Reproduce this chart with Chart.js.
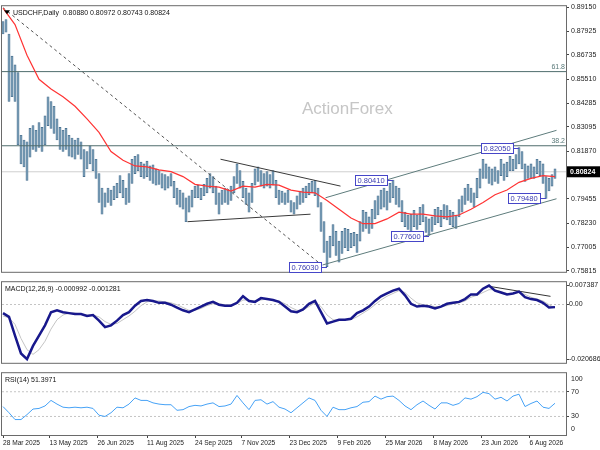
<!DOCTYPE html>
<html lang="en">
<head>
<meta charset="UTF-8">
<title>USDCHF Daily</title>
<script src="https://cdn.jsdelivr.net/npm/chart.js@4.4.0/dist/chart.umd.min.js"></script>
<style>
    body { margin: 0; background: #fff; }
    .wrap { position: relative; width: 600px; height: 450px; overflow: hidden; }
    canvas { position: absolute; left: 0; }
    #main { top: 0; }
    #macd { top: 278px; }
    #rsi { top: 367px; }
</style>
</head>
<body>
<div class="wrap">
    <canvas id="main" width="600" height="278"></canvas>
    <canvas id="macd" width="600" height="89"></canvas>
    <canvas id="rsi" width="600" height="83"></canvas>
</div>
<script>
const FONT = "'Liberation Sans', Arial, sans-serif";
Chart.defaults.font.family = FONT;
Chart.defaults.font.size = 7;
Chart.defaults.color = '#222';

// bar index axis: one unit = one daily bar
const X_MIN = -0.67, X_MAX = 375.33;
const AXIS_W = 34;
const CANDLE_STEP = 2, MA_STEP = 8, OSC_STEP = 4;

// daily ranges, two bars per entry
const highs = [
    0.8842,0.8852,0.8779,0.8667,0.8623,0.8584,0.8267,0.8243,0.8234,0.8302,
    0.8316,0.8292,0.8331,0.8307,0.8365,0.8462,0.8438,0.8414,0.8350,0.8307,
    0.8292,0.8302,0.8267,0.8253,0.8243,0.8253,0.8234,0.8195,0.8185,0.8214,
    0.8195,0.8146,0.8073,0.8000,0.7976,0.8000,0.7990,0.8010,0.8024,0.8063,
    0.8039,0.8000,0.8073,0.8146,0.8161,0.8170,0.8131,0.8122,0.8136,0.8112,
    0.8117,0.8097,0.8088,0.8073,0.8068,0.8058,0.8073,0.8034,0.8000,0.7990,
    0.7976,0.7951,0.7961,0.7990,0.8010,0.8015,0.8000,0.8019,0.8049,0.8073,
    0.8058,0.8010,0.7976,0.7990,0.8000,0.7990,0.8010,0.8058,0.8122,0.8088,
    0.8034,0.8000,0.7976,0.8024,0.8097,0.8107,0.8088,0.8073,0.8083,0.8068,
    0.8088,0.8039,0.7990,0.7985,0.7976,0.7990,0.7937,0.7927,0.7961,0.7985,
    0.8000,0.8010,0.8024,0.8034,0.8039,0.8000,0.7927,0.7830,0.7732,0.7757,
    0.7815,0.7781,0.7732,0.7781,0.7796,0.7791,0.7771,0.7776,0.7766,0.7830,
    0.7888,0.7878,0.7854,0.7893,0.7937,0.7961,0.7990,0.8000,0.7985,0.8024,
    0.8041,0.8010,0.8000,0.7937,0.7878,0.7864,0.7868,0.7888,0.7864,0.7903,
    0.7917,0.7854,0.7844,0.7854,0.7893,0.7903,0.7888,0.7917,0.7912,0.7888,
    0.7878,0.7864,0.7942,0.7961,0.8000,0.8019,0.8000,0.7976,0.8049,0.8097,
    0.8146,0.8122,0.8107,0.8097,0.8107,0.8088,0.8146,0.8122,0.8131,0.8161,
    0.8146,0.8170,0.8205,0.8185,0.8122,0.8112,0.8122,0.8107,0.8146,0.8136,
    0.8122,0.8058,0.8049,0.8068,0.8097
];
const lows = [
    0.8779,0.8788,0.8438,0.8462,0.8438,0.8219,0.8122,0.8107,0.8039,0.8156,
    0.8195,0.8185,0.8205,0.8185,0.8219,0.8316,0.8302,0.8277,0.8243,0.8195,
    0.8185,0.8195,0.8161,0.8156,0.8146,0.8170,0.8146,0.8058,0.8097,0.8122,
    0.8088,0.8049,0.7927,0.7868,0.7903,0.7927,0.7912,0.7942,0.7951,0.7976,
    0.7951,0.7917,0.7927,0.8024,0.8073,0.8088,0.8058,0.8049,0.8058,0.8039,
    0.8024,0.8015,0.8019,0.8000,0.7990,0.8000,0.8010,0.7951,0.7917,0.7903,
    0.7893,0.7830,0.7878,0.7903,0.7951,0.7951,0.7942,0.7961,0.7976,0.8000,
    0.7976,0.7917,0.7868,0.7917,0.7927,0.7917,0.7937,0.7976,0.8024,0.8000,
    0.7951,0.7917,0.7878,0.7927,0.8015,0.8034,0.8010,0.8000,0.8010,0.8000,
    0.8015,0.7951,0.7917,0.7927,0.7917,0.7927,0.7878,0.7868,0.7893,0.7917,
    0.7927,0.7951,0.7966,0.7976,0.7961,0.7903,0.7781,0.7674,0.7603,0.7649,
    0.7708,0.7659,0.7625,0.7669,0.7698,0.7684,0.7698,0.7708,0.7674,0.7732,
    0.7781,0.7796,0.7771,0.7796,0.7844,0.7864,0.7893,0.7903,0.7888,0.7927,
    0.7951,0.7917,0.7903,0.7830,0.7805,0.7791,0.7781,0.7805,0.7791,0.7815,
    0.7830,0.7776,0.7760,0.7781,0.7815,0.7825,0.7805,0.7844,0.7839,0.7815,
    0.7805,0.7796,0.7854,0.7878,0.7917,0.7937,0.7927,0.7903,0.7951,0.8000,
    0.8049,0.8049,0.8024,0.8015,0.8034,0.8024,0.8063,0.8039,0.8058,0.8088,
    0.8088,0.8097,0.8122,0.8097,0.8034,0.8049,0.8049,0.8049,0.8073,0.8063,
    0.8024,0.7948,0.7985,0.8010,0.8049
];

// red moving average, one value every 8 bars
const maValues = [
    0.8910,0.8827,0.8672,0.8550,0.8501,0.8462,0.8414,0.8350,0.8282,0.8185,
    0.8141,0.8112,0.8107,0.8092,0.8083,0.8058,0.8019,0.8010,0.8005,0.7985,
    0.8010,0.8005,0.8019,0.8015,0.7990,0.7980,0.7976,0.7937,0.7893,0.7849,
    0.7820,0.7820,0.7844,0.7878,0.7868,0.7868,0.7859,0.7854,0.7864,0.7893,
    0.7927,0.7966,0.7990,0.8029,0.8049,0.8063,0.8058
];

// MACD(12,26,9), one value every 4 bars
const macdMain = [
    -0.00327,-0.00469,-0.01180,-0.01855,-0.02068,-0.01571,-0.01180,-0.00789,-0.00291,-0.00220,
    -0.00291,-0.00327,-0.00363,-0.00363,-0.00434,-0.00398,-0.00611,-0.00860,-0.00789,-0.00611,
    -0.00398,-0.00291,-0.00043,0.00135,0.00171,0.00135,0.00064,0.00064,-0.00007,-0.00114,
    -0.00220,-0.00291,-0.00185,-0.00078,0.00028,0.00100,-0.00007,-0.00043,-0.00043,0.00064,
    0.00313,0.00135,0.00100,0.00242,0.00206,0.00171,0.00100,-0.00078,-0.00256,-0.00291,
    -0.00185,0.00028,0.00135,-0.00291,-0.00718,-0.00647,-0.00576,-0.00576,-0.00540,-0.00327,
    -0.00220,-0.00078,0.00135,0.00313,0.00419,0.00526,0.00597,0.00348,0.00028,-0.00078,
    -0.00043,-0.00078,-0.00149,-0.00078,0.00028,0.00064,0.00100,0.00206,0.00384,0.00384,
    0.00600,0.00720,0.00526,0.00455,0.00384,0.00419,0.00490,0.00277,0.00206,0.00171,
    0.00064,-0.00114,-0.00099
];
const macdSignal = [
    -0.00434,-0.00505,-0.00753,-0.01287,-0.01713,-0.01891,-0.01713,-0.01393,-0.00931,-0.00576,
    -0.00398,-0.00327,-0.00327,-0.00363,-0.00398,-0.00398,-0.00469,-0.00647,-0.00753,-0.00718,
    -0.00576,-0.00434,-0.00256,-0.00043,0.00100,0.00135,0.00135,0.00100,0.00064,-0.00007,
    -0.00114,-0.00220,-0.00220,-0.00149,-0.00043,0.00028,0.00028,-0.00007,-0.00007,0.00028,
    0.00171,0.00171,0.00135,0.00171,0.00206,0.00171,0.00135,0.00028,-0.00114,-0.00220,
    -0.00220,-0.00078,0.00064,-0.00078,-0.00398,-0.00576,-0.00611,-0.00576,-0.00576,-0.00469,
    -0.00327,-0.00185,-0.00007,0.00171,0.00313,0.00419,0.00526,0.00455,0.00242,0.00064,
    -0.00007,-0.00043,-0.00078,-0.00078,-0.00043,0.00028,0.00064,0.00135,0.00277,0.00348,
    0.00455,0.00562,0.00562,0.00490,0.00419,0.00419,0.00455,0.00384,0.00277,0.00206,
    0.00135,-0.00007,-0.00128
];

// RSI(14), one value every 4 bars
const rsiValues = [
    46,36,25,25,33,42,43,47,56,50,
    45,44,45,44,45,43,32,30,36,45,
    44,50,60,56,56,52,50,49,49,40,
    41,46,48,47,50,52,46,47,50,64,
    52,41,56,57,50,54,45,42,36,44,
    52,60,56,40,30,45,41,41,44,46,
    53,54,63,58,62,63,56,47,41,49,
    55,48,42,52,52,48,51,60,58,62,
    69,67,58,61,55,63,66,46,51,55,
    45,43,51.4
];

// axis ticks
const priceTicks = [0.89150,0.87925,0.86735,0.85510,0.84285,0.83095,0.81870,0.80645,0.79455,0.78230,0.77005,0.75815];
const macdTicks = [-0.020686, 0, 0.007387];
const macdTickText = ['-0.020686', '0.00', '0.007387'];
const rsiTicks = [30, 70];
const dateTickIdx = [0, 31, 63, 96, 128, 159, 191, 223, 255, 287, 319, 351];
const dateLabels = ['28 Mar 2025','13 May 2025','26 Jun 2025','11 Aug 2025','24 Sep 2025','7 Nov 2025',
                    '23 Dec 2025','9 Feb 2026','25 Mar 2026','8 May 2026','23 Jun 2026','6 Aug 2026'];

// levels and drawn lines (bar index, price)
const LAST_CLOSE = 0.80824;
const fibLevels = [[0.8589, '61.8'], [0.8214, '38.2']];
const dashedDiag = [0, 0.8912, 211, 0.7620];
const triTop = [145, 0.8146, 225, 0.8010];
const triBottom = [123, 0.7830, 205, 0.7868];
const chanUpper = [215, 0.7951, 369, 0.8292];
const chanLower = [213, 0.7611, 369, 0.7946];
const macdTrend = [323, 0.0070, 365, 0.0031];
const pivots = [[344, 0.82050], [260, 0.80410], [284, 0.77600], [362, 0.79480], [216, 0.76030]];

const seq = (arr, step) => arr.map((v, i) => ({ x: i * step, y: v }));
const seg = l => [{ x: l[0], y: l[1] }, { x: l[2], y: l[3] }];
const flat = v => [{ x: X_MIN, y: v }, { x: X_MAX, y: v }];

function lineDs(data, color, width, dash, order) {
    return { type: 'line', data, borderColor: color, borderWidth: width, borderDash: dash || [],
             pointRadius: 0, tension: 0, fill: false, order: order || 0 };
}

function yAxis(min, max, ticks, fmt, pad) {
    return {
        type: 'linear', position: 'right', min, max,
        afterFit: s => { s.width = AXIS_W; },
        afterBuildTicks: s => { s.ticks = ticks.map(v => ({ value: v })); },
        ticks: { callback: fmt, padding: pad === undefined ? 2 : pad, color: '#222', font: { size: 7 } },
        grid: { drawOnChartArea: false, drawTicks: true, tickLength: 3, color: '#444' },
        border: { display: false }
    };
}

const hiddenX = { type: 'linear', min: X_MIN, max: X_MAX, offset: false, grid: { offset: false }, display: false };

function options(padding, y, x) {
    return {
        responsive: false, animation: false, events: [],
        layout: { padding },
        plugins: { legend: { display: false }, tooltip: { enabled: false } },
        scales: { x: x || hiddenX, y }
    };
}

const frame = {
    id: 'frame',
    afterDraw(chart) {
        const { ctx, chartArea: a } = chart;
        ctx.save();
        ctx.strokeStyle = '#6a6a6a';
        ctx.lineWidth = 1;
        ctx.strokeRect(a.left - 0.5, a.top - 0.5, a.right - a.left + 1, a.bottom - a.top + 1);
        ctx.restore();
    }
};

const mainDeco = {
    id: 'mainDeco',
    beforeDatasetsDraw(chart) {
        const { ctx, chartArea: a } = chart;
        ctx.save();
        ctx.font = '17px ' + FONT;
        ctx.fillStyle = '#c6c6c6';
        ctx.textBaseline = 'middle';
        ctx.fillText('ActionForex', a.left + 300, a.top + 103);
        ctx.restore();
    },
    afterDraw(chart) {
        const { ctx, chartArea: a, scales: { x, y } } = chart;
        ctx.save();
        // title
        ctx.fillStyle = '#000';
        ctx.beginPath();
        ctx.moveTo(a.left + 2, a.top + 4); ctx.lineTo(a.left + 8, a.top + 4); ctx.lineTo(a.left + 5, a.top + 8);
        ctx.fill();
        ctx.font = '7px ' + FONT;
        ctx.textBaseline = 'middle';
        ctx.fillStyle = '#111';
        ctx.fillText('USDCHF,Daily  0.80880 0.80972 0.80743 0.80824', a.left + 11, a.top + 7);
        // fib labels
        ctx.fillStyle = '#587878';
        ctx.textAlign = 'right';
        ctx.textBaseline = 'bottom';
        fibLevels.forEach(([v, t]) => ctx.fillText(t, a.right - 1, y.getPixelForValue(v) - 1));
        // pivot boxes
        ctx.font = '7.5px ' + FONT;
        ctx.textAlign = 'left';
        ctx.textBaseline = 'middle';
        pivots.forEach(([i, v]) => {
            const px = x.getPixelForValue(i), py = Math.round(y.getPixelForValue(v)) + 0.5;
            const t = v.toFixed(5);
            const w = Math.ceil(ctx.measureText(t).width) + 4;
            const bx = Math.round(px - 6 - w) + 0.5;
            ctx.fillStyle = '#fff';
            ctx.fillRect(bx, py - 5, w, 10);
            ctx.strokeStyle = '#4646c8';
            ctx.lineWidth = 1;
            ctx.strokeRect(bx, py - 5, w, 10);
            ctx.beginPath(); ctx.moveTo(bx + w, py); ctx.lineTo(px, py); ctx.stroke();
            ctx.fillStyle = '#3a3ab0';
            ctx.fillText(t, bx + 2, py + 0.5);
        });
        // last price tag
        const ly = y.getPixelForValue(LAST_CLOSE);
        ctx.fillStyle = '#000';
        ctx.fillRect(a.right + 1, ly - 5.5, chart.width - a.right - 1, 11);
        ctx.fillStyle = '#fff';
        ctx.font = 'bold 7px ' + FONT;
        ctx.fillText(LAST_CLOSE.toFixed(5), a.right + 4, ly + 0.5);
        ctx.restore();
    }
};

function header(text) {
    return {
        id: 'header',
        afterDraw(chart) {
            const { ctx, chartArea: a } = chart;
            ctx.save();
            ctx.font = '7px ' + FONT;
            ctx.fillStyle = '#111';
            ctx.textBaseline = 'middle';
            ctx.fillText(text, a.left + 3, a.top + 7);
            ctx.restore();
        }
    };
}

const rsiEdges = {
    id: 'rsiEdges',
    afterDraw(chart) {
        const { ctx, chartArea: a, scales: { y } } = chart;
        ctx.save();
        ctx.font = '7px ' + FONT;
        ctx.fillStyle = '#222';
        ctx.textBaseline = 'middle';
        ctx.fillText('100', a.right + 5, y.getPixelForValue(100) + 6);
        ctx.fillText('0', a.right + 5, y.getPixelForValue(0) - 6);
        ctx.restore();
    }
};

// price panel
new Chart(document.getElementById('main'), {
    type: 'line',
    data: {
        datasets: [
            lineDs(seq(maValues, MA_STEP), '#ff3434', 1.2, null, 1),
            lineDs(seg(dashedDiag), '#555', 1, [3, 3], 1),
            lineDs(seg(triTop), '#3a3a3a', 1, null, 1),
            lineDs(seg(triBottom), '#3a3a3a', 1, null, 1),
            lineDs(seg(chanUpper), '#5e7c7c', 1, null, 1),
            lineDs(seg(chanLower), '#5e7c7c', 1, null, 1),
            ...fibLevels.map(([v]) => lineDs(flat(v), '#4f6d6d', 1, null, 3)),
            {
                type: 'bar',
                data: highs.map((h, i) => ({ x: i * CANDLE_STEP, y: [lows[i], h] })),
                backgroundColor: '#7499b3',
                borderColor: '#42698a',
                borderWidth: 0.6,
                borderSkipped: false,
                barThickness: 2.2,
                grouped: false,
                order: 5
            },
            lineDs(flat(LAST_CLOSE), '#cfcfcf', 1, null, 9)
        ]
    },
    options: options({ top: 1, left: 2, right: 0, bottom: 1 },
        yAxis(0.75766, 0.89198, priceTicks, v => v.toFixed(5))),
    plugins: [frame, mainDeco]
});

// MACD panel
new Chart(document.getElementById('macd'), {
    type: 'line',
    data: {
        datasets: [
            lineDs(seq(macdMain, OSC_STEP), '#18188c', 2.5, null, 1),
            lineDs(seq(macdSignal, OSC_STEP), '#c4c4c4', 1, null, 2),
            lineDs(seg(macdTrend), '#333', 1, null, 1),
            lineDs(flat(0), '#c4c4c4', 1, [2, 2], 4)
        ]
    },
    options: options({ top: 2, left: 2, right: 0, bottom: 1 },
        yAxis(-0.02210, 0.00846, macdTicks, (v, i) => macdTickText[i], 0)),
    plugins: [frame, header('MACD(12,26,9) -0.000992 -0.001281')]
});

// RSI panel with the date axis
new Chart(document.getElementById('rsi'), {
    type: 'line',
    data: {
        datasets: [
            lineDs(seq(rsiValues, OSC_STEP), '#46a2f6', 1, null, 1),
            lineDs(flat(70), '#c4c4c4', 1, [2, 2], 4),
            lineDs(flat(30), '#c4c4c4', 1, [2, 2], 4)
        ]
    },
    options: options({ top: 1, left: 2, right: 0, bottom: 0 },
        yAxis(0, 100, rsiTicks, v => String(v)),
        {
            type: 'linear', min: X_MIN, max: X_MAX, offset: false,
            afterFit: s => { s.height = 15; },
            afterBuildTicks: s => { s.ticks = dateTickIdx.map(v => ({ value: v })); },
            ticks: { callback: (v, i) => dateLabels[i], align: 'start', autoSkip: false, maxRotation: 0,
                     padding: 1, color: '#222', font: { size: 6.6 } },
            grid: { drawOnChartArea: false, drawTicks: true, tickLength: 3, color: '#444', offset: false },
            border: { display: false }
        }),
    plugins: [frame, header('RSI(14) 51.3971'), rsiEdges]
});
</script>
</body>
</html>
